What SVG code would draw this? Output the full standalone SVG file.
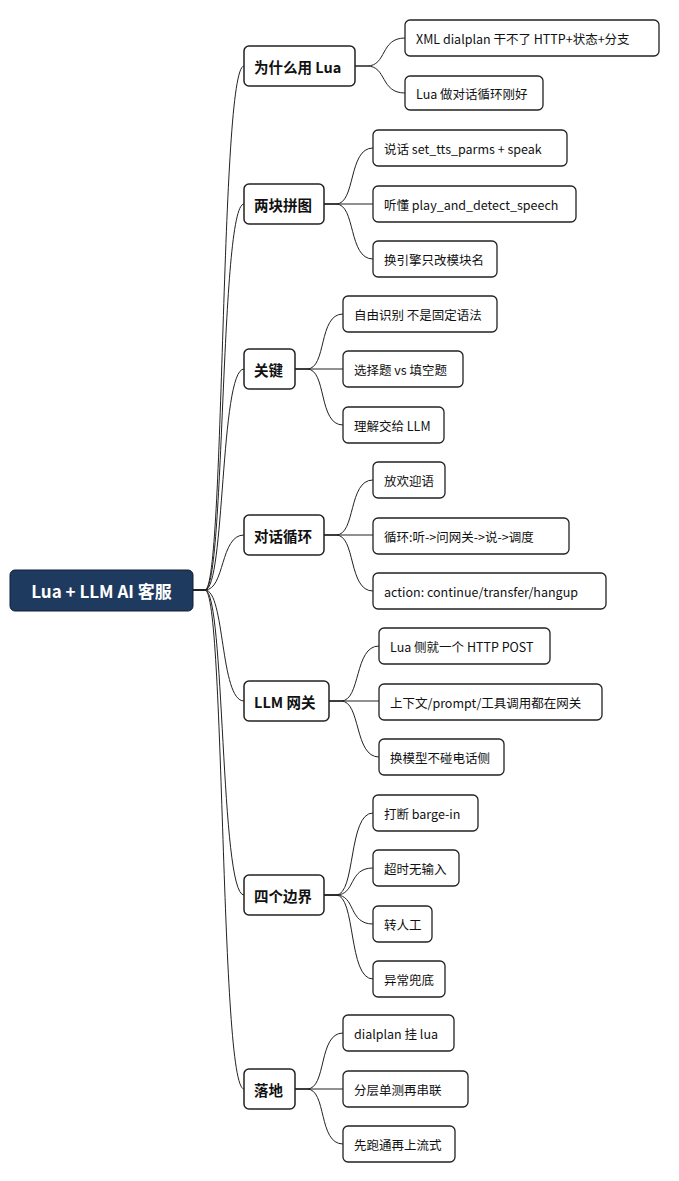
<svg xmlns="http://www.w3.org/2000/svg" width="679" height="1181" viewBox="0 0 679 1181">
<style>
.c{fill:none;stroke:#222;stroke-width:1}
.b rect{fill:#fff;stroke:#222;stroke-width:1.5}
.b text{font-family:"Noto Sans CJK SC","Liberation Sans",sans-serif;font-size:14.5px;font-weight:bold;fill:#111;dominant-baseline:central}
.l rect{fill:#fff;stroke:#222;stroke-width:1.3}
.l text{font-family:"Noto Sans CJK SC","Liberation Sans",sans-serif;font-size:12.5px;fill:#111;dominant-baseline:central}
</style>
<rect width="679" height="1181" fill="#fff"/>
<g id="connectors">
<path class="c" d="M193,590 H205 C225,590 220,66 244,66"/>
<path class="c" d="M193,590 H205 C225,590 220,204 244,204"/>
<path class="c" d="M193,590 H205 C225,590 220,369 244,369"/>
<path class="c" d="M193,590 H205 C225,590 220,535 244,535"/>
<path class="c" d="M193,590 H205 C225,590 220,701 244,701"/>
<path class="c" d="M193,590 H205 C225,590 220,895 244,895"/>
<path class="c" d="M193,590 H205 C225,590 220,1089 244,1089"/>
<path class="c" d="M355,66 H367 C387,66 380,38 405,38"/>
<path class="c" d="M355,66 H367 C387,66 380,93 405,93"/>
<path class="c" d="M324,204 H336 C356,204 348,148 373,148"/>
<path class="c" d="M324,204 H373"/>
<path class="c" d="M324,204 H336 C356,204 348,259 373,259"/>
<path class="c" d="M295,369 H307 C327,369 318,314 343,314"/>
<path class="c" d="M295,369 H343"/>
<path class="c" d="M295,369 H307 C327,369 318,425 343,425"/>
<path class="c" d="M324,535 H336 C356,535 348,480 373,480"/>
<path class="c" d="M324,535 H373"/>
<path class="c" d="M324,535 H336 C356,535 348,591 373,591"/>
<path class="c" d="M329,701 H341 C361,701 354,646 379,646"/>
<path class="c" d="M329,701 H379"/>
<path class="c" d="M329,701 H341 C361,701 354,757 379,757"/>
<path class="c" d="M324,895 H336 C356,895 348,813 373,813"/>
<path class="c" d="M324,895 H336 C356,895 348,868 373,868"/>
<path class="c" d="M324,895 H336 C356,895 348,924 373,924"/>
<path class="c" d="M324,895 H336 C356,895 348,979 373,979"/>
<path class="c" d="M295,1089 H307 C327,1089 318,1033 343,1033"/>
<path class="c" d="M295,1089 H343"/>
<path class="c" d="M295,1089 H307 C327,1089 318,1144 343,1144"/>
</g>
<g id="root"><rect x="10" y="570" width="183" height="41" rx="5" fill="#1f3a5f" stroke="#0f1f33" stroke-width="1"/><text x="101.5" y="590.5" text-anchor="middle" dominant-baseline="central" font-family="'Noto Sans CJK SC','Liberation Sans',sans-serif" font-size="17" font-weight="bold" fill="#fff">Lua + LLM AI 客服</text></g>
<g id="b1" class="b"><rect x="244" y="46" width="111" height="40" rx="5"/><text x="254" y="66">为什么用 Lua</text></g>
<g id="b2" class="b"><rect x="244" y="184" width="80" height="40" rx="5"/><text x="254" y="204">两块拼图</text></g>
<g id="b3" class="b"><rect x="244" y="349" width="51" height="40" rx="5"/><text x="254" y="369">关键</text></g>
<g id="b4" class="b"><rect x="244" y="515" width="80" height="40" rx="5"/><text x="254" y="535">对话循环</text></g>
<g id="b5" class="b"><rect x="244" y="681" width="85" height="40" rx="5"/><text x="254" y="701">LLM 网关</text></g>
<g id="b6" class="b"><rect x="244" y="875" width="80" height="40" rx="5"/><text x="254" y="895">四个边界</text></g>
<g id="b7" class="b"><rect x="244" y="1069" width="51" height="40" rx="5"/><text x="254" y="1089">落地</text></g>
<g id="l1a" class="l"><rect x="405" y="20" width="254" height="36" rx="5"/><text x="416" y="38">XML dialplan 干不了 HTTP+状态+分支</text></g>
<g id="l1b" class="l"><rect x="405" y="76" width="138" height="34" rx="5"/><text x="416" y="93">Lua 做对话循环刚好</text></g>
<g id="l2a" class="l"><rect x="373" y="130" width="194" height="36" rx="5"/><text x="384" y="148">说话 set_tts_parms + speak</text></g>
<g id="l2b" class="l"><rect x="373" y="186" width="203" height="36" rx="5"/><text x="384" y="204">听懂 play_and_detect_speech</text></g>
<g id="l2c" class="l"><rect x="373" y="241" width="124" height="36" rx="5"/><text x="384" y="259">换引擎只改模块名</text></g>
<g id="l3a" class="l"><rect x="343" y="296" width="154" height="36" rx="5"/><text x="354" y="314">自由识别 不是固定语法</text></g>
<g id="l3b" class="l"><rect x="343" y="351" width="120" height="36" rx="5"/><text x="354" y="369">选择题 vs 填空题</text></g>
<g id="l3c" class="l"><rect x="343" y="407" width="101" height="36" rx="5"/><text x="354" y="425">理解交给 LLM</text></g>
<g id="l4a" class="l"><rect x="373" y="462" width="72" height="36" rx="5"/><text x="384" y="480">放欢迎语</text></g>
<g id="l4b" class="l"><rect x="373" y="518" width="196" height="36" rx="5"/><text x="384" y="536">循环:听-&gt;问网关-&gt;说-&gt;调度</text></g>
<g id="l4c" class="l"><rect x="373" y="573" width="233" height="36" rx="5"/><text x="384" y="591">action: continue/transfer/hangup</text></g>
<g id="l5a" class="l"><rect x="379" y="628" width="171" height="36" rx="5"/><text x="390" y="646">Lua 侧就一个 HTTP POST</text></g>
<g id="l5b" class="l"><rect x="379" y="684" width="223" height="36" rx="5"/><text x="390" y="702">上下文/prompt/工具调用都在网关</text></g>
<g id="l5c" class="l"><rect x="379" y="739" width="125" height="36" rx="5"/><text x="390" y="757">换模型不碰电话侧</text></g>
<g id="l6a" class="l"><rect x="373" y="795" width="105" height="36" rx="5"/><text x="384" y="813">打断 barge-in</text></g>
<g id="l6b" class="l"><rect x="373" y="850" width="86" height="36" rx="5"/><text x="384" y="868">超时无输入</text></g>
<g id="l6c" class="l"><rect x="373" y="906" width="59" height="36" rx="5"/><text x="384" y="924">转人工</text></g>
<g id="l6d" class="l"><rect x="373" y="961" width="72" height="36" rx="5"/><text x="384" y="979">异常兜底</text></g>
<g id="l7a" class="l"><rect x="343" y="1015" width="111" height="36" rx="5"/><text x="354" y="1033">dialplan 挂 lua</text></g>
<g id="l7b" class="l"><rect x="343" y="1071" width="125" height="36" rx="5"/><text x="354" y="1089">分层单测再串联</text></g>
<g id="l7c" class="l"><rect x="343" y="1126" width="112" height="36" rx="5"/><text x="354" y="1144">先跑通再上流式</text></g>
</svg>
